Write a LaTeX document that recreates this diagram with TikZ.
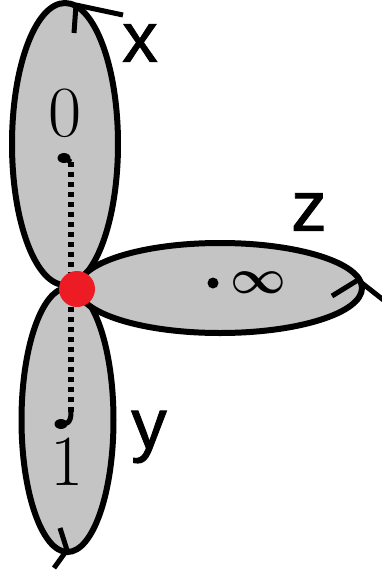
\documentclass[tikz,border=0pt]{standalone}
\usepackage{fontspec}
\newfontfamily\labelfont{Liberation Sans}[UprightFeatures={FakeBold=1.2}]
\usetikzlibrary{positioning,shapes.geometric}
\definecolor{lobe}{HTML}{C4C4C4}
\definecolor{joint}{HTML}{ED1C24}

\begin{document}
\begin{tikzpicture}[x=1pt,y=-1pt,
    lobe/.style={draw=black,fill=lobe,line width=6pt},
    tick/.style={draw=black,line width=5pt},
    dotline/.style={line width=6pt,dash pattern=on 5pt off 5pt},
    ptdot/.style={ellipse,fill=black,inner sep=0pt,minimum width=13pt,minimum height=10pt},
    letter/.style={font=\labelfont\fontsize{71}{71}\selectfont,inner sep=0pt},
    digit/.style={font=\fontsize{72}{72}\selectfont,inner sep=0pt}]
  \useasboundingbox (0,0) rectangle (382,574);
  % the three components
  \draw[lobe] (65,144) ellipse [x radius=53pt, y radius=141pt];
  \draw[lobe] (67.5,420) ellipse [x radius=46pt, y radius=132pt];
  \draw[lobe] (220,288) ellipse [x radius=142pt, y radius=45pt];
  % tangent ticks at the far ends
  \foreach \ax/\ay/\bx/\by/\cx/\cy in {74/33/76/5/123/15,
      60/528/67/550/54/568, 332/296/358/280/386/302}
    \draw[tick,line join=round] (\ax,\ay) -- (\bx,\by) -- (\cx,\cy);
  % marked points
  \node[ptdot] (p0) at (64,158) {};
  \node[ptdot] (p1) at (61,424) {};
  \node[circle,fill=black,inner sep=0pt,minimum size=11pt] (pinf) at (213,283) {};
  \coordinate (d0) at (71,162);
  \coordinate (d1) at (71,412);
  \draw[line width=5pt] (p0.center) -- (d0);
  \draw[line width=5pt] (d1) .. controls (71,424) and (66,424) .. (p1.center);
  \draw[dotline] (d0) -- (71,289);
  \draw[dotline] (d1) -- (71,289);
  \node[circle,fill=joint,inner sep=0pt,minimum size=36pt] (join) at (77,289) {};
  % labels
  \node[digit] (zero) at (65,113) {0};
  \node[digit] (one) at (67,462) {1};
  \node[font=\Huge\boldmath,scale=1.95,inner sep=0pt] (infty) at (258,283) {$\infty$};
  \node[letter] (xlab) at (140,43) {x};
  \node[letter] (zlab) at (309,212) {z};
  \node[letter] (ylab) at (149,437) {y};
\end{tikzpicture}
\end{document}
